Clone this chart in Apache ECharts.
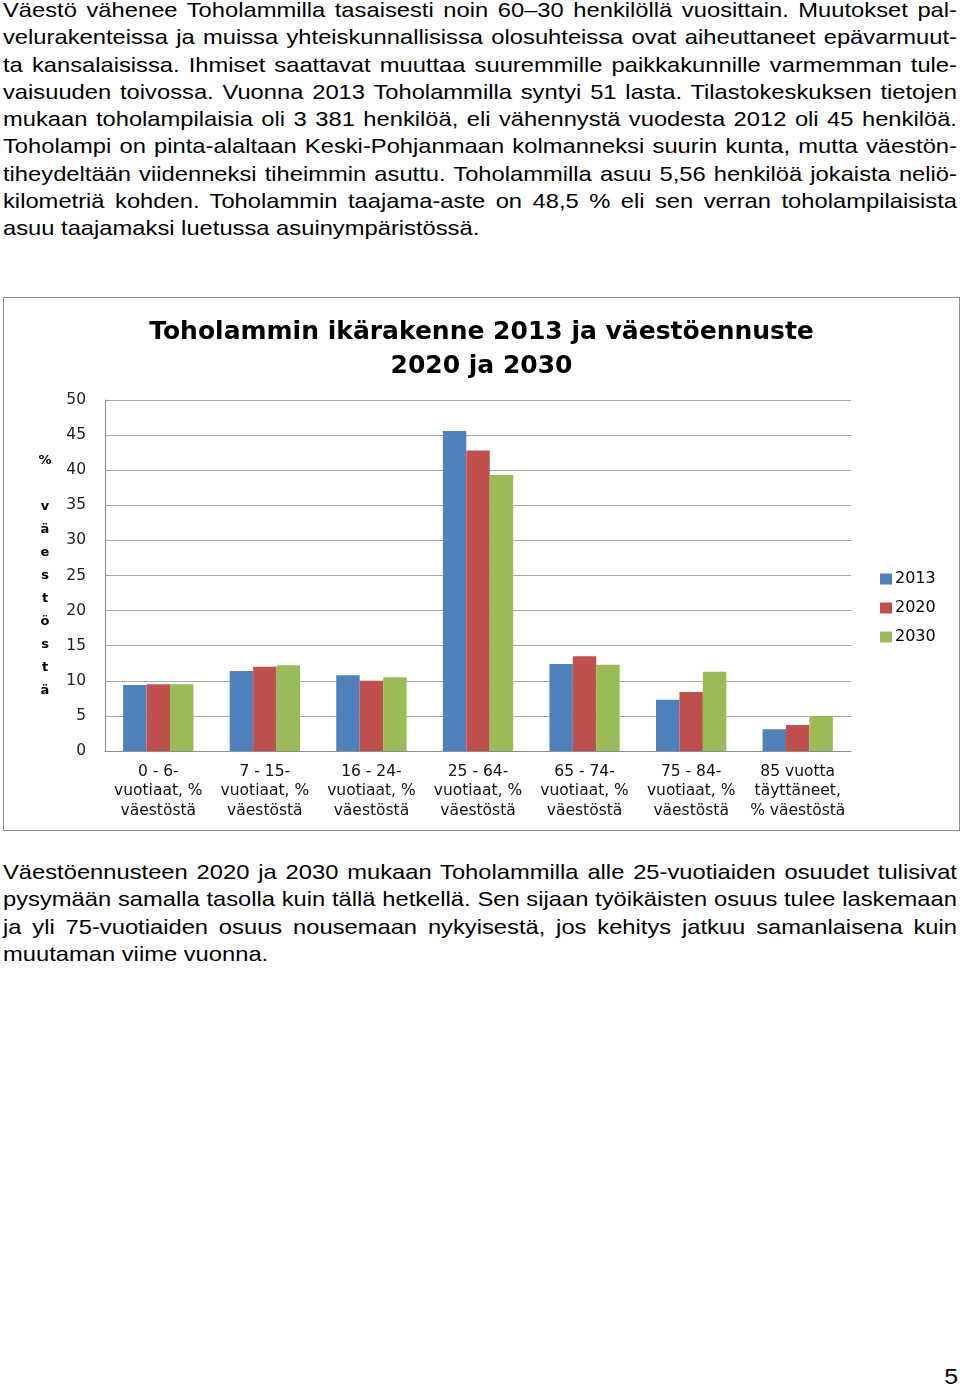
<!DOCTYPE html>
<html>
<head>
<meta charset="utf-8">
<script src="https://cdn.jsdelivr.net/npm/echarts@6/dist/echarts.min.js"></script>
<style>
  html, body { margin: 0; padding: 0; background: #fff; }
  body { width: 960px; height: 1390px; position: relative; overflow: hidden;
         font-family: "Liberation Sans", Arial, sans-serif; color: #000; }
  .para { position: absolute; left: 3px; width: 844px; font-size: 21px; line-height: 27.3px;
          transform: scaleX(1.1303); transform-origin: 0 0; }
  .para div { white-space: nowrap; text-align: justify; text-align-last: justify; }
  .para div.last { text-align-last: left; }
  #chart { position: absolute; left: 3px; top: 297px; width: 955px; height: 532px; border: 1px solid #8c8c8c; }
  #pg { position: absolute; left: 945px; top: 1364px; font-size: 22px; transform: scaleX(1.13); }
</style>
</head>
<body>
<div class="para" style="top:-4px">
  <div>Väestö vähenee Toholammilla tasaisesti noin 60–30 henkilöllä vuosittain. Muutokset pal-</div>
  <div>velurakenteissa ja muissa yhteiskunnallisissa olosuhteissa ovat aiheuttaneet epävarmuut-</div>
  <div>ta kansalaisissa. Ihmiset saattavat muuttaa suuremmille paikkakunnille varmemman tule-</div>
  <div>vaisuuden toivossa. Vuonna 2013 Toholammilla syntyi 51 lasta. Tilastokeskuksen tietojen</div>
  <div>mukaan toholampilaisia oli 3 381 henkilöä, eli vähennystä vuodesta 2012 oli 45 henkilöä.</div>
  <div>Toholampi on pinta-alaltaan Keski-Pohjanmaan kolmanneksi suurin kunta, mutta väestön-</div>
  <div>tiheydeltään viidenneksi tiheimmin asuttu. Toholammilla asuu 5,56 henkilöä jokaista neliö-</div>
  <div>kilometriä kohden. Toholammin taajama-aste on 48,5 % eli sen verran toholampilaisista</div>
  <div class="last">asuu taajamaksi luetussa asuinympäristössä.</div>
</div>
<div id="chart"></div>
<div class="para" style="top:858px">
  <div>Väestöennusteen 2020 ja 2030 mukaan Toholammilla alle 25-vuotiaiden osuudet tulisivat</div>
  <div>pysymään samalla tasolla kuin tällä hetkellä. Sen sijaan työikäisten osuus tulee laskemaan</div>
  <div>ja yli 75-vuotiaiden osuus nousemaan nykyisestä, jos kehitys jatkuu samanlaisena kuin</div>
  <div class="last">muutaman viime vuonna.</div>
</div>
<div id="pg">5</div>
<script>
const categories = [
  "0 - 6-\nvuotiaat, %\nväestöstä",
  "7 - 15-\nvuotiaat, %\nväestöstä",
  "16 - 24-\nvuotiaat, %\nväestöstä",
  "25 - 64-\nvuotiaat, %\nväestöstä",
  "65 - 74-\nvuotiaat, %\nväestöstä",
  "75 - 84-\nvuotiaat, %\nväestöstä",
  "85 vuotta\ntäyttäneet,\n% väestöstä"
];
const seriesNames = ["2013", "2020", "2030"];
const values2013 = [9.4, 11.4, 10.8, 45.6, 12.4, 7.3, 3.1];
const values2020 = [9.5, 12.0, 10.0, 42.8, 13.5, 8.4, 3.7];
const values2030 = [9.5, 12.2, 10.5, 39.3, 12.3, 11.3, 5.0];
const yTicks = { min: 0, max: 50, interval: 5 };
const titleText = "Toholammin ikärakenne 2013 ja väestöennuste\n2020 ja 2030";
const yName = "%\n\nv\nä\ne\ns\nt\nö\ns\nt\nä";

const colors = ["#4F81BD", "#C0504D", "#9BBB59"];
const chart = echarts.init(document.getElementById('chart'), null, { renderer: 'canvas' });
const labelFont = '"DejaVu Sans", sans-serif';
chart.setOption({
  animation: false,
  color: colors,
  title: {
    text: titleText, left: 'center', top: 12,
    textStyle: { fontFamily: labelFont, fontWeight: 'bold', fontSize: 25, lineHeight: 34, color: '#000' }
  },
  legend: {
    orient: 'vertical', left: 871, top: 268,
    itemWidth: 12, itemHeight: 11, itemGap: 13, icon: 'rect',
    textStyle: { fontFamily: labelFont, fontSize: 16, lineHeight: 14, color: '#000', padding: [0,0,0,-2] },
    data: seriesNames
  },
  grid: { left: 101, top: 102, width: 746, height: 351, containLabel: false },
  xAxis: {
    type: 'category', data: categories,
    axisLine: { lineStyle: { color: '#8c8c8c', width: 1 } },
    axisTick: { show: false },
    axisLabel: { interval: 0, margin: 11, fontFamily: labelFont, fontSize: 15.5, lineHeight: 19.5, color: '#111' }
  },
  yAxis: {
    type: 'value', min: yTicks.min, max: yTicks.max, interval: yTicks.interval,
    name: yName, nameLocation: 'middle', nameRotate: 0, nameGap: 60,
    nameTextStyle: { align: 'center', verticalAlign: 'middle', lineHeight: 23, padding: [6,0,0,0], fontFamily: labelFont, fontWeight: 'bold', fontSize: 13, color: '#000' },
    axisLine: { show: true, lineStyle: { color: '#8c8c8c', width: 1 } },
    axisTick: { show: false },
    splitLine: { lineStyle: { color: '#a6a6a6', width: 1 } },
    axisLabel: { margin: 19, fontFamily: labelFont, fontSize: 15.5, color: '#222' }
  },
  series: [
    { name: seriesNames[0], type: 'bar', data: values2013, barGap: '0%', barCategoryGap: '34%' },
    { name: seriesNames[1], type: 'bar', data: values2020, barGap: '0%', barCategoryGap: '34%' },
    { name: seriesNames[2], type: 'bar', data: values2030, barGap: '0%', barCategoryGap: '34%' }
  ]
});
</script>
</body>
</html>
